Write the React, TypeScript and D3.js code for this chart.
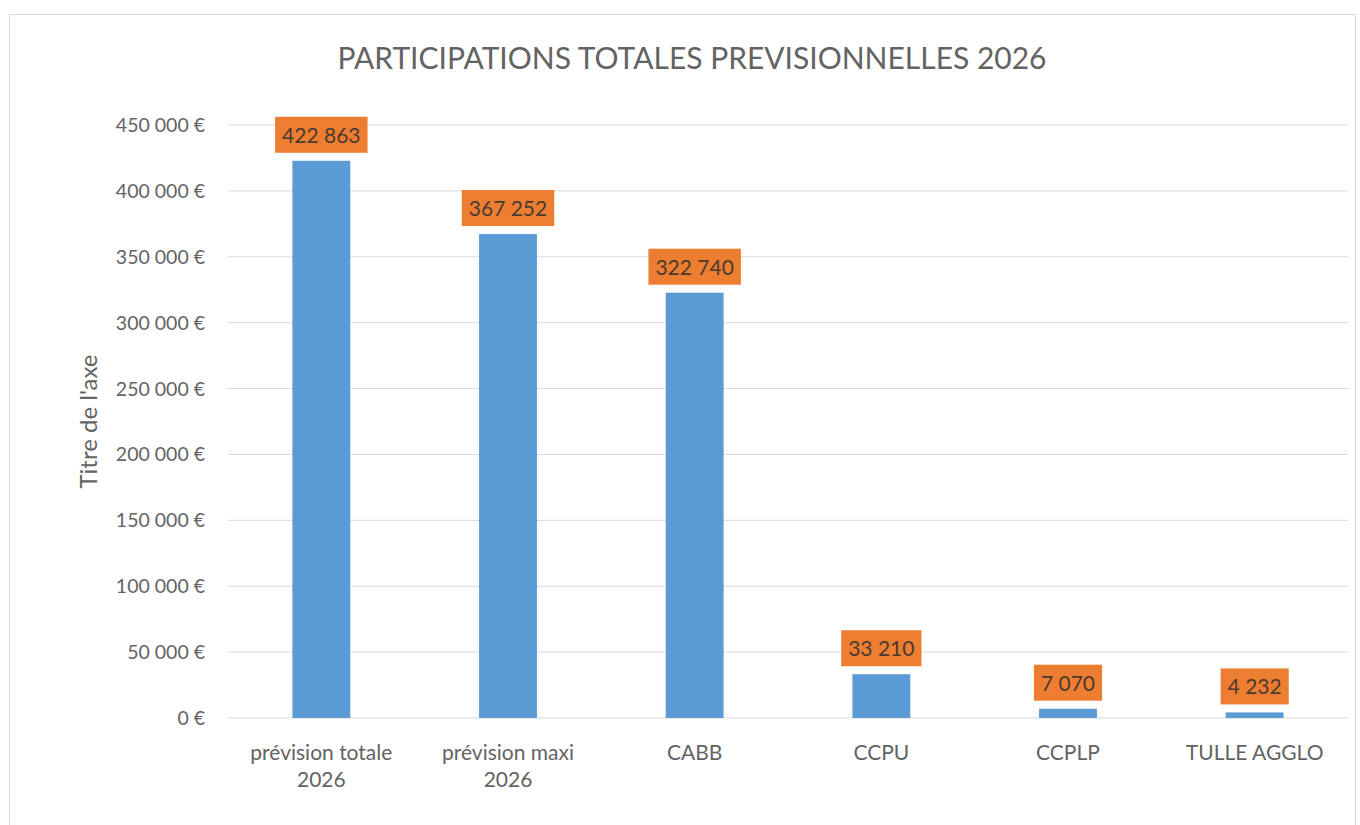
import React from "react";
import * as d3 from "d3";

const categories: string[][] = [
  ["prévision totale", "2026"],
  ["prévision maxi", "2026"],
  ["CABB"],
  ["CCPU"],
  ["CCPLP"],
  ["TULLE AGGLO"],
];
const values: number[] = [422863, 367252, 322740, 33210, 7070, 4232];
const yTicks: number[] = [0, 50000, 100000, 150000, 200000, 250000, 300000, 350000, 400000, 450000];
const title = "PARTICIPATIONS TOTALES PREVISIONNELLES 2026";
const axisTitle = "Titre de l'axe";

const W = 1360;
const H = 825;
const plot = { left: 228, right: 1348, top: 125, bottom: 718 };
const FONT = "Lato, 'Liberation Sans', sans-serif";
const GREY = "#636363";
const LABEL_FONT_SIZE = 21;

const fmtNum = (v: number) => d3.format(",")(v).replace(/,/g, " ");

let ctx: CanvasRenderingContext2D | null = null;
function measure(text: string, size: number): number {
  if (!ctx) ctx = document.createElement("canvas").getContext("2d");
  if (!ctx) return text.length * size * 0.55;
  ctx.font = `${size}px Lato`;
  return ctx.measureText(text).width;
}

export default function App() {
  const x = d3
    .scaleBand<number>()
    .domain(values.map((_, i) => i))
    .range([plot.left, plot.right])
    .paddingInner(0.69)
    .paddingOuter(0.345);
  const y = d3.scaleLinear().domain([0, 450000]).range([plot.bottom, plot.top]);

  return (
    <svg
      width={W}
      height={H}
      style={{ position: "absolute", left: 0, top: 0, background: "#fff" }}
      fontFamily={FONT}
    >
      <rect x={9.5} y={14.5} width={1346} height={830} fill="#fff" stroke="#d9d9d9" />
      <text x={692} y={69} textAnchor="middle" fontSize={30} fill={GREY}>
        {title}
      </text>
      {yTicks.map((t) => (
        <g key={t}>
          <line x1={plot.left} x2={plot.right} y1={y(t)} y2={y(t)} stroke="#d9d9d9" strokeWidth={1} />
          <text x={205} y={y(t) + 7} textAnchor="end" fontSize={19.5} fill={GREY}>
            {fmtNum(t) + " €"}
          </text>
        </g>
      ))}
      <text
        transform={`translate(97, ${(plot.top + plot.bottom) / 2}) rotate(-90)`}
        textAnchor="middle"
        fontSize={24}
        fill={GREY}
      >
        {axisTitle}
      </text>
      {values.map((v, i) => {
        const bx = x(i)!;
        const bw = x.bandwidth();
        const cx = bx + bw / 2;
        const top = y(v);
        const label = fmtNum(v);
        const boxW = measure(label, LABEL_FONT_SIZE) + 14;
        const boxH = 36;
        const boxBottom = top - 8;
        return (
          <g key={i}>
            <rect x={bx} y={top} width={bw} height={plot.bottom - top} fill="#5b9bd5" />
            <rect x={cx - boxW / 2} y={boxBottom - boxH} width={boxW} height={boxH} fill="#ed7d31" />
            <text
              x={cx}
              y={boxBottom - boxH / 2 + 8}
              textAnchor="middle"
              fontSize={LABEL_FONT_SIZE}
              fill="#4a3a30"
            >
              {label}
            </text>
            {categories[i].map((line, j) => (
              <text key={j} x={cx} y={760 + j * 27} textAnchor="middle" fontSize={21} fill={GREY}>
                {line}
              </text>
            ))}
          </g>
        );
      })}
    </svg>
  );
}
